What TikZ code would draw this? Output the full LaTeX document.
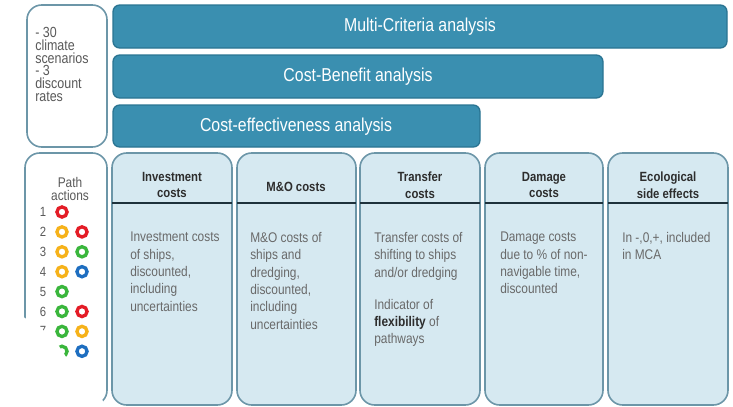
\documentclass[tikz,border=0pt]{standalone}
\usepackage{fontspec}
\setmainfont[FakeStretch=0.85]{Liberation Sans}

\definecolor{barblue}{RGB}{58,143,176}
\definecolor{baredge}{RGB}{42,116,146}
\definecolor{boxfill}{RGB}{214,233,241}
\definecolor{boxedge}{RGB}{108,150,168}
\definecolor{sepdark}{RGB}{30,50,60}
\definecolor{bodygray}{RGB}{105,105,105}
\definecolor{headgray}{RGB}{45,45,45}
\definecolor{ringred}{RGB}{228,28,38}
\definecolor{ringyellow}{RGB}{246,178,26}
\definecolor{ringgreen}{RGB}{58,182,60}
\definecolor{ringblue}{RGB}{30,110,192}

\tikzset{
  bar/.style={draw=baredge, fill=barblue, line width=1pt, rounded corners=5pt},
  costbox/.style={draw=boxedge, fill=boxfill, line width=1.2pt, rounded corners=11pt},
  sidebox/.style={draw=boxedge, fill=white, line width=1.2pt, rounded corners=11pt},
  sepline/.style={draw=sepdark, line width=1.5pt},
  bartext/.style={text=white, font=\fontsize{14}{16}\selectfont},
  headtext/.style={text=headgray, font=\bfseries\fontsize{10}{12.5}\selectfont, align=center},
  bodytext/.style={text=bodygray, font=\fontsize{10.5}{13}\selectfont, align=left, anchor=north west, inner sep=0pt},
  sidetext/.style={text=bodygray!85!black},
  ring/.style={draw=#1, line width=2.5pt, circle, minimum size=7.6pt, inner sep=0pt},
}

\begin{document}
\begin{tikzpicture}[x=0.75pt,y=0.75pt,yscale=-1,xscale=1]
\useasboundingbox (0,0) rectangle (733,407);

%Side boxes
\draw [sidebox] (27,5) rectangle (107,147);
\draw [sidebox] (25,153) rectangle (107,405);

%Analysis bars
\draw [bar] (113,5) rectangle (727,48);
\draw [bar] (113,55) rectangle (603,98);
\draw [bar] (113,105) rectangle (480,147);

%Cost columns
\draw [costbox] (112,153) rectangle (232,405);
\draw [costbox] (237,153) rectangle (356,405);
\draw [costbox] (360,153) rectangle (480,405);
\draw [costbox] (485,153) rectangle (603,405);
\draw [costbox] (608,153) rectangle (728,405);

%Header lines
\draw [sepline] (112,203) -- (232,203);
\draw [sepline] (237,203) -- (356,203);
\draw [sepline] (360,203) -- (480,203);
\draw [sepline] (485,203) -- (603,203);
\draw [sepline] (608,203) -- (728,203);

% Text Node
\node [bartext] (mca) at (420,27) {Multi-Criteria analysis};
% Text Node
\node [bartext] (cba) at (358,77) {Cost-Benefit analysis};
% Text Node
\node [bartext] (cea) at (296,127) {Cost-effectiveness analysis};

% Text Node
\node [sidetext, font=\fontsize{11}{9.6}\selectfont, align=left, anchor=north west, inner sep=0pt] (scen) at (35,27) {- 30\\climate\\scenarios\\- 3\\discount\\rates};

% Text Node
\node [sidetext, font=\fontsize{10.5}{9.8}\selectfont, align=center] (path) at (70,189) {Path\\actions};

%Path action rings
\foreach \n/\ca/\cb [count=\i] in {1/ringred/none, 2/ringyellow/ringred, 3/ringyellow/ringgreen, 4/ringyellow/ringblue, 5/ringgreen/none, 6/ringgreen/ringred, 7/ringgreen/ringyellow, 8/ringgreen/ringblue}{
  \node [sidetext, font=\fontsize{10}{10}\selectfont, inner sep=0pt] (num\n) at (43,{212+(\i-1)*19.9}) {\n};
  \node [ring=\ca] (ra\n) at (62,{212+(\i-1)*19.9}) {};
  \node [ring=\cb] (rb\n) at (82,{212+(\i-1)*19.9}) {};
}

%White patch
\fill [white] (0,316) -- (22,316) -- (43,330) -- (57,343) -- (68,360) -- (88,384) -- (103,401) -- (103,407) -- (0,407) -- cycle;

% Text Node
\node [headtext] (invhead) at (172,185) {Investment\\costs};
% Text Node
\node [headtext] (mohead) at (296,187) {M\&O costs};
% Text Node
\node [headtext] (transhead) at (420,185) {Transfer\\costs};
% Text Node
\node [headtext] (dmghead) at (544,185) {Damage\\costs};
% Text Node
\node [headtext] (ecohead) at (668,185) {Ecological\\side effects};

% Text Node
\node [bodytext] (invbody) at (130,232) {Investment costs\\of ships,\\discounted,\\including\\uncertainties};
% Text Node
\node [bodytext] (mobody) at (250,232) {M\&O costs of\\ships and\\dredging,\\discounted,\\including\\uncertainties};
% Text Node
\node [bodytext] (transbody) at (374,232) {Transfer costs of\\shifting to ships\\and/or dredging\\[11pt]Indicator of\\\textcolor{headgray}{\textbf{flexibility}} of\\pathways};
% Text Node
\node [bodytext] (dmgbody) at (500,232) {Damage costs\\due to \% of non-\\navigable time,\\discounted};
% Text Node
\node [bodytext] (ecobody) at (622,232) {In -,0,+, included\\in MCA};

\end{tikzpicture}
\end{document}
